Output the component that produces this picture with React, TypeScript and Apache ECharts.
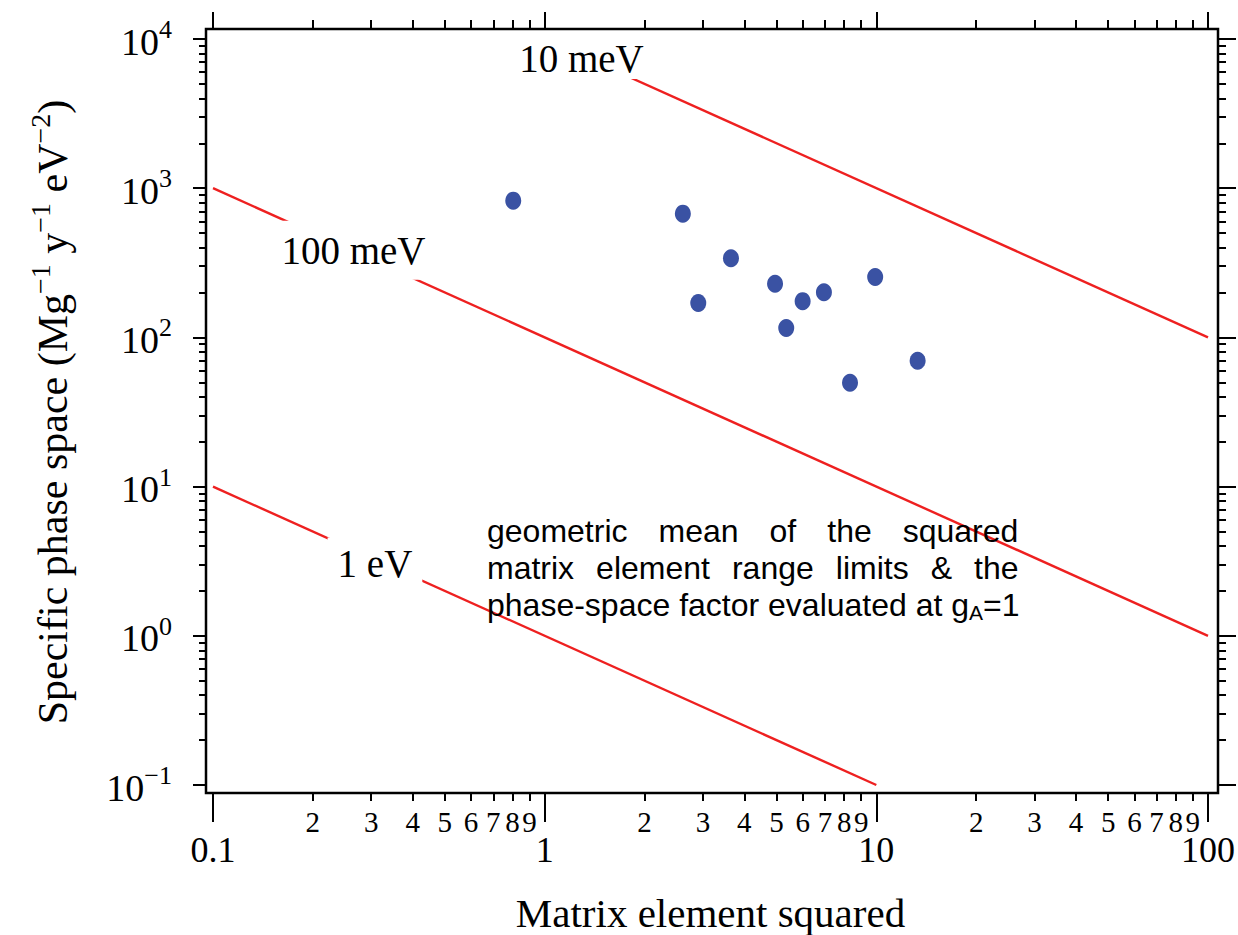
import React, { useEffect, useRef } from 'react';
import * as echarts from 'echarts';

// ---- tick values & labels ----
const xMajorTicks = [0.1, 1, 10, 100];
const xMajorLabels = ['0.1', '1', '10', '100'];
const xMinorTicks = [0.2, 0.3, 0.4, 0.5, 0.6, 0.7, 0.8, 0.9, 2, 3, 4, 5, 6, 7, 8, 9, 20, 30, 40, 50, 60, 70, 80, 90];
const xMinorLabels = ['2', '3', '4', '5', '6', '7', '8', '9', '2', '3', '4', '5', '6', '7', '8', '9', '2', '3', '4', '5', '6', '7', '8', '9'];
const yMajorTicks = [0.1, 1, 10, 100, 1000, 10000];
const yExponents = ['−1', '0', '1', '2', '3', '4'];
const yMinorTicks = [
  0.2, 0.3, 0.4, 0.5, 0.6, 0.7, 0.8, 0.9,
  2, 3, 4, 5, 6, 7, 8, 9,
  20, 30, 40, 50, 60, 70, 80, 90,
  200, 300, 400, 500, 600, 700, 800, 900,
  2000, 3000, 4000, 5000, 6000, 7000, 8000, 9000,
];

// ---- data points ----
const pointX = [0.804, 2.61, 3.645, 2.905, 4.95, 5.995, 6.95, 5.35, 9.92, 13.32, 8.33];
const pointY = [825, 675, 339, 170, 229, 175, 200.5, 115.6, 254, 69.8, 49.7];

// ---- limit lines (y = k / x) ----
const limitNames = ['10 meV', '100 meV', '1 eV'];
const limitX = [[1, 100], [0.1, 100], [0.1, 10]];
const limitY = [[10000, 100], [1000, 1], [10, 0.1]];
const limitLabelX = [1.291, 0.2652, 0.3078];
const limitLabelY = [7396, 384, 3.07];

const serif = 'Liberation Serif';
const sans = 'Liberation Sans';
const black = '#000';
const red = '#ee2020';
const blue = '#3a52a3';

function findIdx(arr: number[], v: number) {
  return arr.findIndex((t) => Math.abs(Math.log10(t) - Math.log10(v)) < 1e-6);
}

function logX(extra: any) {
  return {
    type: 'log',
    logBase: 10,
    gridIndex: 0,
    min: 0.1,
    max: 100,
    axisLine: { show: false },
    splitLine: { show: false },
    minorTick: { show: false },
    ...extra,
  };
}
function logY(extra: any) {
  return {
    type: 'log',
    logBase: 10,
    gridIndex: 0,
    min: 0.1,
    max: 10000,
    axisLine: { show: false },
    splitLine: { show: false },
    minorTick: { show: false },
    ...extra,
  };
}
const tickStyle = { color: black, width: 2 };

const option: any = {
  animation: false,
  backgroundColor: '#fff',
  grid: [
    { left: 213, top: 39, width: 995, height: 746, outerBoundsMode: 'none', containLabel: false },
    {
      left: 206, top: 29, width: 1012, height: 764, show: true,
      borderColor: black, borderWidth: 2.5, backgroundColor: 'transparent',
      outerBoundsMode: 'none', containLabel: false,
    },
  ],
  xAxis: [
    logX({
      position: 'bottom', offset: 8,
      axisTick: { show: true, customValues: xMajorTicks, length: 29, lineStyle: tickStyle },
      axisLabel: {
        show: true, customValues: xMajorTicks, margin: 43,
        formatter: (v: number) => xMajorLabels[findIdx(xMajorTicks, v)] ?? '',
        fontSize: 36, lineHeight: 28, fontFamily: serif, color: black,
      },
      name: 'Matrix element squared', nameLocation: 'middle', nameGap: 104, nameMoveOverlap: false,
      nameTextStyle: { fontSize: 41, lineHeight: 32, fontFamily: serif, color: black },
    }),
    logX({
      position: 'bottom', offset: 8,
      axisTick: { show: true, customValues: xMinorTicks, length: 8, lineStyle: tickStyle },
      axisLabel: {
        show: true, customValues: xMinorTicks, margin: 18,
        formatter: (v: number) => xMinorLabels[findIdx(xMinorTicks, v)] ?? '',
        fontSize: 29, lineHeight: 22, fontFamily: serif, color: black,
      },
    }),
    logX({
      position: 'top', offset: 10,
      axisTick: { show: true, customValues: xMajorTicks, length: 17, lineStyle: tickStyle },
      axisLabel: { show: false },
    }),
    logX({
      position: 'top', offset: 10,
      axisTick: { show: true, customValues: xMinorTicks, length: 9, lineStyle: tickStyle },
      axisLabel: { show: false },
    }),
    { type: 'value', gridIndex: 1, show: false, min: 0, max: 1 },
  ],
  yAxis: [
    logY({
      position: 'left', offset: 7,
      axisTick: { show: true, customValues: yMajorTicks, length: 13, lineStyle: tickStyle },
      axisLabel: {
        show: true, customValues: yMajorTicks, margin: 34, padding: [5, 0, 0, 0],
        formatter: (v: number) => `{b|10}{s|${yExponents[findIdx(yMajorTicks, v)] ?? ''}}`,
        color: black,
        rich: {
          b: { fontSize: 38, lineHeight: 50, fontFamily: serif, color: black },
          s: { fontSize: 26, lineHeight: 26, fontFamily: serif, color: black, verticalAlign: 'top' },
        },
      },
      name: 'Specific phase space (Mg{s|−1} y{s|−1} eV{s|−2})',
      nameLocation: 'middle', nameRotate: 90, nameGap: 126, nameMoveOverlap: false,
      nameTextStyle: {
        fontSize: 42, lineHeight: 54, fontFamily: serif, color: black,
        rich: { s: { fontSize: 28, lineHeight: 28, fontFamily: serif, color: black, verticalAlign: 'top' } },
      },
    }),
    logY({
      position: 'left', offset: 7,
      axisTick: { show: true, customValues: yMinorTicks, length: 7, lineStyle: tickStyle },
      axisLabel: { show: false },
    }),
    logY({
      position: 'right', offset: 10,
      axisTick: { show: true, customValues: yMajorTicks, length: 18, lineStyle: tickStyle },
      axisLabel: { show: false },
    }),
    logY({
      position: 'right', offset: 10,
      axisTick: { show: true, customValues: yMinorTicks, length: 8, lineStyle: tickStyle },
      axisLabel: { show: false },
    }),
    { type: 'value', gridIndex: 1, show: false, min: 0, max: 1 },
  ],
  series: [
    ...limitNames.map((n, i) => ({
      type: 'line',
      name: n,
      xAxisIndex: 0,
      yAxisIndex: 0,
      data: limitX[i].map((x, j) => [x, limitY[i][j]]),
      showSymbol: false,
      symbol: 'none',
      silent: true,
      z: 3,
      lineStyle: { color: red, width: 2.4, opacity: 1 },
    })),
    {
      type: 'scatter',
      name: 'labels',
      xAxisIndex: 0,
      yAxisIndex: 0,
      silent: true,
      z: 5,
      symbolSize: 1,
      itemStyle: { color: 'rgba(255,255,255,0)', opacity: 1 },
      label: {
        show: true, position: 'inside', formatter: '{b}', opacity: 1,
        fontSize: 39, fontFamily: serif, color: black, backgroundColor: '#fff',
      },
      data: limitNames.map((n, i) => ({
        name: n,
        value: [limitLabelX[i], limitLabelY[i]],
        label: { padding: i === 0 ? [1, 3] : i === 1 ? [10, 4] : [6, 10] },
      })),
    },
    {
      type: 'scatter',
      name: 'nuclei',
      xAxisIndex: 0,
      yAxisIndex: 0,
      z: 6,
      symbol: 'circle',
      symbolSize: [16, 18],
      itemStyle: { color: blue, opacity: 1 },
      data: pointX.map((x, i) => [x, pointY[i]]),
    },
  ],
  graphic: [
    {
      type: 'text',
      left: 487,
      top: 512,
      z: 10,
      style: {
        text:
          'geometric{g1| }mean{g1| }of{g1| }the{g1| }squared\n' +
          'matrix{g2| }element{g2| }range{g2| }limits{g2| }&{g2| }the\n' +
          'phase-space factor evaluated at g{sub|A}=1',
        fontFamily: sans,
        fontSize: 32,
        lineHeight: 37,
        fill: black,
        rich: {
          g1: { width: 31, fontSize: 32, lineHeight: 37, fontFamily: sans },
          g2: { width: 22, fontSize: 32, lineHeight: 37, fontFamily: sans },
          sub: { fontSize: 21, lineHeight: 30, fontFamily: sans, verticalAlign: 'bottom', fill: black },
        },
      },
    },
  ],
};

export default function App() {
  const ref = useRef<HTMLDivElement>(null);
  useEffect(() => {
    const chart = echarts.init(ref.current!, null, { renderer: 'svg' });
    chart.setOption(option);
    return () => chart.dispose();
  }, []);
  return (
    <div
      ref={ref}
      style={{ position: 'absolute', left: 0, top: 0, width: 1238, height: 935, background: '#fff' }}
    />
  );
}
